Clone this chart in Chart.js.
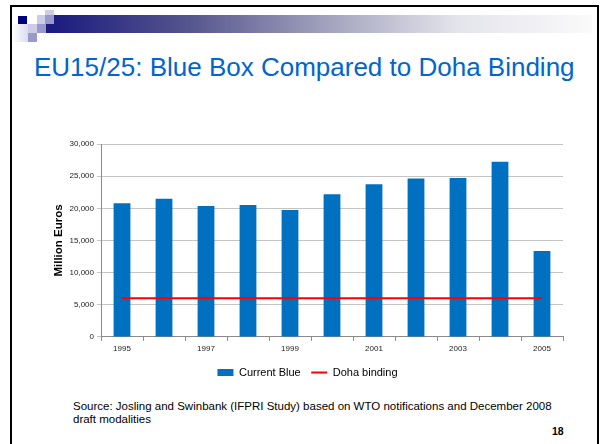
<!DOCTYPE html>
<html lang="en">
<head>
    <meta charset="UTF-8">
    <title>EU15/25: Blue Box Compared to Doha Binding</title>
    <script src="https://cdn.jsdelivr.net/npm/chart.js"></script>
    <style>
        body {
            margin: 0;
            width: 600px;
            height: 444px;
            overflow: hidden;
            background: #fff;
            font-family: Arial, "Liberation Sans", sans-serif;
            position: relative;
        }
        .frame {
            position: absolute;
            left: 10px;
            top: 5px;
            width: 585px;
            height: 460px;
            border: 2px solid #000;
        }
        .sq { position: absolute; }
        .band {
            position: absolute;
            left: 54px;
            top: 15px;
            width: 538px;
            height: 18px;
            background: linear-gradient(to right, #1c1c80 0%, #55558e 25%, #a0a0bc 50%, #e4e4ec 75%, #fafafa 100%);
        }
        h1 {
            position: absolute;
            left: 34px;
            top: 52px;
            margin: 0;
            font-weight: normal;
            font-size: 26px;
            color: #0066cc;
            white-space: nowrap;
        }
        .chart-box {
            position: absolute;
            left: 52px;
            top: 136px;
            width: 523px;
            height: 252px;
        }
        .source {
            position: absolute;
            left: 73px;
            top: 400px;
            font-size: 11.5px;
            line-height: 13px;
            color: #000;
        }
        .page {
            position: absolute;
            left: 552px;
            top: 425px;
            font-size: 10.5px;
            font-weight: bold;
        }
    </style>
</head>
<body>
    <div class="frame"></div>
    <div class="band"></div>
    <!-- little squares in the corner -->
    <div class="sq" style="left:12px;top:24px;width:16px;height:18px;background:linear-gradient(to right,#ffffff,#dcdcf0);"></div>
    <div class="sq" style="left:18px;top:16px;width:9px;height:8px;background:#000080;"></div>
    <div class="sq" style="left:37px;top:15px;width:8px;height:9px;background:#ccccea;"></div>
    <div class="sq" style="left:45px;top:10px;width:9px;height:5px;background:#ccccea;"></div>
    <div class="sq" style="left:45px;top:15px;width:9px;height:9px;background:#9999cc;"></div>
    <div class="sq" style="left:28px;top:24px;width:9px;height:9px;background:#ccccea;"></div>
    <div class="sq" style="left:37px;top:24px;width:9px;height:9px;background:#9999cc;"></div>
    <div class="sq" style="left:46px;top:24px;width:8px;height:9px;background:#1c1c80;"></div>
    <div class="sq" style="left:28px;top:33px;width:9px;height:9px;background:#9999cc;"></div>

    <h1>EU15/25: Blue Box Compared to Doha Binding</h1>

    <div class="chart-box">
        <canvas id="blueChart"></canvas>
    </div>

    <div class="source">Source: Josling and Swinbank (IFPRI Study) based on WTO notifications and December 2008<br>draft modalities</div>
    <div class="page">18</div>

    <script>
        // data (million euros)
        const years = ['1995', '1996', '1997', '1998', '1999', '2000', '2001', '2002', '2003', '2004', '2005'];
        const currentBlue = [20800, 21500, 20350, 20500, 19750, 22200, 23750, 24650, 24700, 27250, 13350];
        const dohaBinding = [6000, 6000, 6000, 6000, 6000, 6000, 6000, 6000, 6000, 6000, 6000];
        const yMin = 0;
        const yMax = 30000;
        const yStep = 5000;

        const fontFam = 'Arial, "Liberation Sans", sans-serif';

        const ctx = document.getElementById('blueChart').getContext('2d');
        const blueChart = new Chart(ctx, {
            data: {
                labels: years,
                datasets: [{
                    type: 'bar',
                    label: 'Current Blue',
                    data: currentBlue,
                    backgroundColor: '#0070c0',
                    barPercentage: 0.8,
                    categoryPercentage: 0.5,
                    pointStyle: 'rect',
                    order: 2
                }, {
                    type: 'line',
                    label: 'Doha binding',
                    data: dohaBinding,
                    borderColor: '#ff0000',
                    backgroundColor: '#ff0000',
                    borderWidth: 2,
                    pointRadius: 0,
                    fill: false,
                    pointStyle: 'line',
                    order: 1
                }]
            },
            options: {
                responsive: true,
                maintainAspectRatio: false,
                animation: false,
                layout: {
                    padding: { top: 8, right: 12, bottom: 0, left: 0 }
                },
                plugins: {
                    tooltip: { enabled: false },
                    legend: {
                        position: 'bottom',
                        labels: {
                            usePointStyle: true,
                            pointStyleWidth: 16,
                            boxHeight: 7,
                            padding: 10.5,
                            color: '#000',
                            font: { family: fontFam, size: 11 },
                            sort: (a, b) => a.datasetIndex - b.datasetIndex
                        }
                    }
                },
                scales: {
                    x: {
                        grid: {
                            display: true,
                            drawOnChartArea: false,
                            offset: true,
                            tickLength: 4,
                            color: '#8a8a8a'
                        },
                        border: { color: '#8a8a8a' },
                        ticks: {
                            autoSkip: false,
                            maxRotation: 0,
                            padding: 3,
                            color: '#222',
                            font: { family: fontFam, size: 8 },
                            callback: (v, i) => (i % 2 === 0 ? years[i] : '')
                        }
                    },
                    y: {
                        min: yMin,
                        max: yMax,
                        afterFit: (axis) => { axis.width = 49; },
                        grid: {
                            color: '#c4c4c4',
                            tickLength: 4
                        },
                        border: { color: '#8a8a8a' },
                        ticks: {
                            stepSize: yStep,
                            padding: 3,
                            color: '#222',
                            font: { family: fontFam, size: 8 },
                            callback: (v) => v.toLocaleString('en-US')
                        },
                        title: {
                            display: true,
                            text: 'Million Euros',
                            color: '#000',
                            padding: { top: 0, bottom: 2 },
                            font: { family: fontFam, size: 11.5, weight: 'bold' }
                        }
                    }
                }
            }
        });
    </script>
</body>
</html>
